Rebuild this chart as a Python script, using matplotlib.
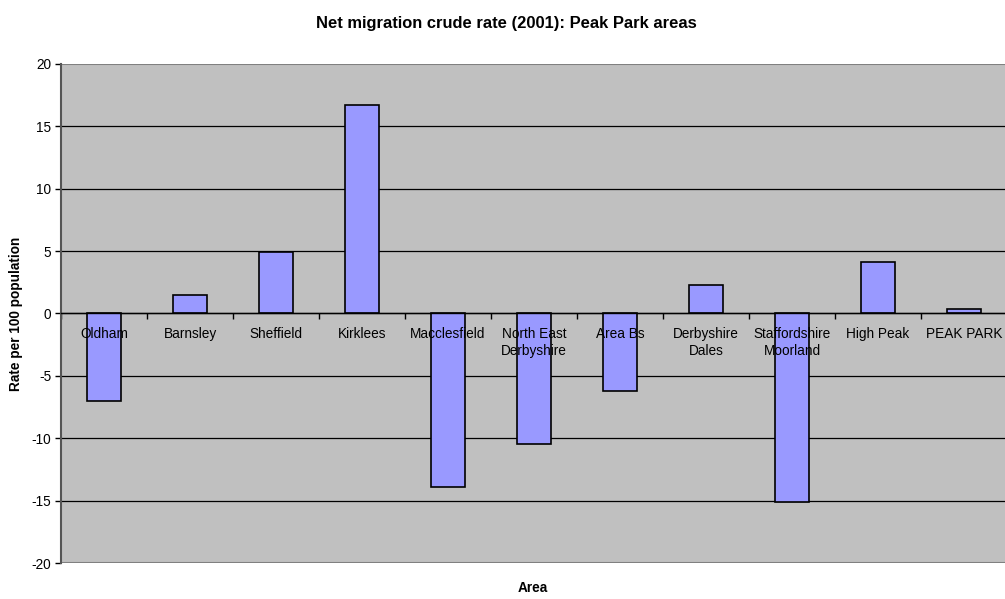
import matplotlib.pyplot as plt
import numpy as np

plt.rcParams['font.family'] = ['Liberation Sans', 'DejaVu Sans']

areas = ['Oldham', 'Barnsley', 'Sheffield', 'Kirklees', 'Macclesfield',
         'North East\nDerbyshire', 'Area Bs', 'Derbyshire\nDales',
         'Staffordshire\nMoorland', 'High Peak', 'PEAK PARK']
rates = [-7.05, 1.5, 4.95, 16.7, -13.9, -10.5, -6.2, 2.25, -15.1, 4.15, 0.32]
yticks = [-20, -15, -10, -5, 0, 5, 10, 15, 20]

fig = plt.figure(figsize=(10.05, 5.99), dpi=100)
ax = fig.add_axes([0.0607, 0.0601, 0.9413, 0.8331])
ax.set_facecolor('#c0c0c0')

x = np.arange(len(areas))
ax.bar(x, rates, width=0.4, color='#9999ff', edgecolor='black', linewidth=1.2, zorder=1)

# horizontal gridlines sit behind the bars
for v in yticks[1:-1]:
    ax.axhline(v, color='black', linewidth=0.9, zorder=0.5)
ax.axhline(20, color='#808080', linewidth=1.5, zorder=0.5)
ax.axhline(-20, color='#808080', linewidth=1.5, zorder=0.5)

ax.set_xlim(-0.5, len(areas) - 0.5)
ax.set_ylim(-20, 20)
ax.set_yticks(yticks)
ax.set_yticklabels([str(v) for v in yticks], fontsize=9.8)

# category axis runs along zero, ticks between categories
ax.spines['bottom'].set_position(('data', 0))
ax.spines['bottom'].set_color('black')
ax.spines['bottom'].set_linewidth(1.0)
ax.spines['top'].set_visible(False)
ax.spines['right'].set_visible(False)
ax.spines['left'].set_color('#555555')
ax.spines['left'].set_linewidth(1.5)
ax.set_xticks(np.arange(len(areas) + 1) - 0.5)
ax.set_xticklabels([])
ax.set_xticks(x, minor=True)
ax.set_xticklabels(areas, minor=True, fontsize=9.8, linespacing=1.25)
ax.tick_params(axis='x', which='major', direction='out', length=4, width=1, color='black')
ax.tick_params(axis='x', which='minor', length=0, pad=10)
ax.tick_params(axis='y', direction='out', length=4, width=1, color='black', pad=3)

ax.set_ylabel('Rate per 100 population', fontsize=9.8, fontweight='bold', labelpad=6)
fig.text(0.53, 0.018, 'Area', ha='center', va='center', fontsize=9.8, fontweight='bold')
fig.text(0.5035, 0.96, 'Net migration crude rate (2001): Peak Park areas',
         ha='center', va='center', fontsize=11.9, fontweight='bold')

fig.savefig('out.png', dpi=100)
